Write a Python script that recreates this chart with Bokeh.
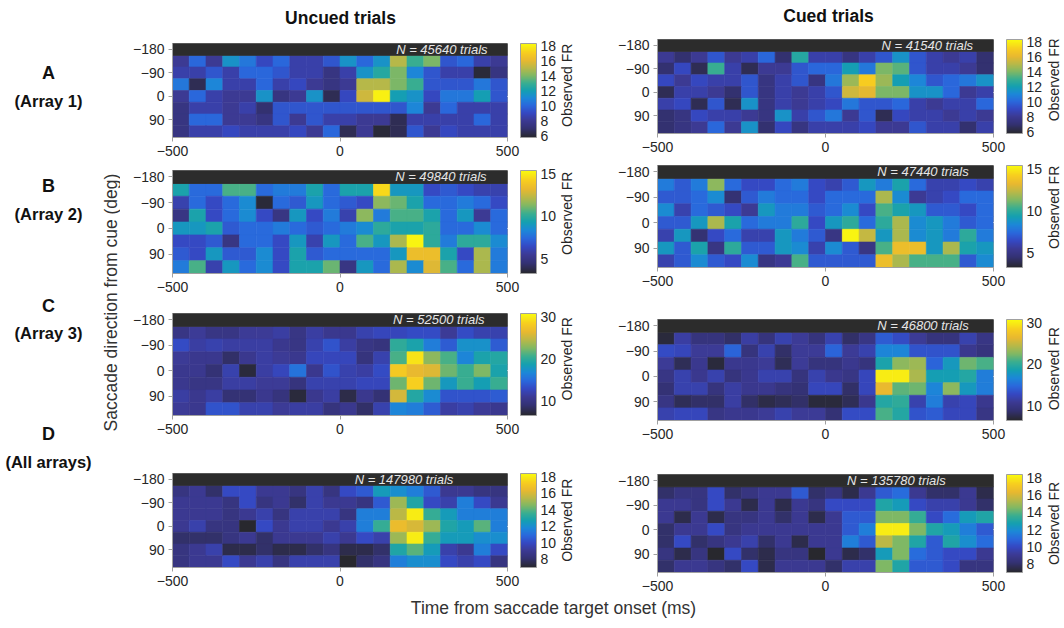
import numpy as np
from math import pi
from bokeh.plotting import figure
from bokeh.models import (Range1d, FixedTicker, ColorBar, LinearColorMapper, Label,
                          ColumnDataSource, LinearAxis)
from bokeh.layouts import row, column
from bokeh.embed import file_html
from bokeh.resources import INLINE
from bokeh.core.properties import value

# ---------------- data ----------------
TIME_BINS = [-475, -425, -375, -325, -275, -225, -175, -125, -75, -25,
             25, 75, 125, 175, 225, 275, 325, 375, 425, 475]
DIRECTIONS = [-135, -90, -45, 0, 45, 90, 135]
X_TICKS = [-500, 0, 500]
Y_TICKS = [-180, -90, 0, 90]

uncued_A = [
    [8, 10, 8, 11.5, 10.5, 9, 10, 8.5, 8.5, 9.5, 11.5, 10, 11.5, 15, 13, 14, 9.5, 10, 8.5, 8],
    [8.5, 8.5, 9.5, 8.5, 10, 10, 9.5, 8.5, 8.5, 7.5, 8.5, 11.5, 12.5, 14, 11, 9.5, 8.5, 8.5, 6, 7.5],
    [10.5, 6.5, 11, 8.5, 8.5, 10, 8.5, 9, 8, 7.5, 8, 15, 15, 14, 13, 9.5, 9.5, 9.5, 10.5, 9.5],
    [8, 10, 8.5, 8, 8, 11.5, 7.5, 8, 11.5, 6.5, 9, 15.5, 18, 12, 11.5, 9, 10.5, 10.5, 12, 9.5],
    [7.5, 8.5, 8.5, 8, 8.5, 7, 9.5, 9.5, 9.5, 9.5, 9.5, 9.5, 9.5, 9.5, 11, 8, 10, 8.5, 8.5, 8.5],
    [7.5, 10, 10, 8, 8, 7.5, 9.5, 8, 9.5, 8.5, 8.5, 8, 8, 6.5, 8.5, 8.5, 8.5, 8.5, 10, 8.5],
    [7.5, 8.5, 8.5, 9, 8.5, 8.5, 8.5, 9, 8, 10, 6.5, 8, 6, 6.5, 9.5, 8, 9, 8.5, 8.5, 8.5],
]
cued_A = [
    [8, 7, 8, 9.5, 8, 8.5, 10, 7, 12.5, 8.5, 8.5, 7.5, 8.5, 9.5, 11.5, 9.5, 8.5, 8, 8.5, 7],
    [7, 9, 6.5, 13, 8.5, 6.5, 8, 8, 9.5, 10, 10, 12, 10.5, 14, 13.5, 9.5, 8.5, 8.5, 8, 7],
    [9, 8, 9, 8.5, 8.5, 9.5, 7.5, 8.5, 9.5, 7.5, 10.5, 14.5, 17, 14.5, 12, 11, 9.5, 10, 10.5, 11.5],
    [6.5, 8.5, 8.5, 8, 7, 9.5, 7.5, 8.5, 8, 8.5, 9.5, 15.5, 16, 14, 14, 11.5, 11.5, 10, 8, 8.5],
    [8.5, 9, 6.5, 9.5, 6.5, 11.5, 7.5, 8.5, 8, 8.5, 9, 10.5, 9.5, 9.5, 10, 8.5, 8, 8.5, 8.5, 10],
    [7, 7.5, 9, 8.5, 8.5, 8, 7.5, 11.5, 8.5, 9.5, 10.5, 8, 9.5, 6.5, 9, 8.5, 8.5, 8, 8.5, 8],
    [7, 7.5, 8, 10, 8, 11.5, 7, 9, 7.5, 8.5, 8.5, 8.5, 9, 8, 8, 9.5, 8.5, 8.5, 7, 8.5],
]
uncued_B = [
    [9.5, 7.5, 7.5, 10.5, 10.5, 7.5, 8, 8, 9.5, 7.5, 9.5, 9.5, 14.5, 9, 9, 6.5, 7, 6.5, 6, 6],
    [6, 7.5, 6.5, 7.5, 8.5, 3.5, 7.5, 7, 9, 7.5, 7, 6.5, 11.5, 11, 9.5, 7.5, 7.5, 8, 7.5, 6.5],
    [5, 9.5, 6.5, 7.5, 8.5, 6.5, 5, 9, 6.5, 8, 6, 11.5, 8, 10.5, 10.5, 9.5, 7.5, 9, 5.5, 7.5],
    [9, 9, 9.5, 7, 7.5, 7.5, 8, 7.5, 7, 7.5, 8, 8.5, 10, 9.5, 9.5, 10, 7.5, 7.5, 8.5, 7.5],
    [6.5, 6.5, 7, 5, 7.5, 7.5, 6.5, 9, 6, 9, 7.5, 10.5, 9, 12, 15.2, 10, 8, 10, 10, 8.5],
    [7, 6.5, 9, 7, 7, 8.5, 6.5, 9.5, 7, 7.5, 7.5, 7.5, 7.5, 9, 13.5, 13.5, 9.5, 6.5, 12, 8],
    [8, 10.5, 6, 9, 7.5, 8.5, 6.5, 9.5, 9.5, 11, 5, 9, 7.5, 12, 8.5, 13, 10.5, 7.5, 12, 8],
]
cued_B = [
    [8, 7, 8, 11.5, 7.5, 6.5, 6.5, 7.5, 8, 6.5, 6, 7, 9, 8, 9.5, 7.5, 6, 6, 6.5, 6],
    [7, 7, 7.5, 8.5, 4.5, 7, 8, 7.5, 7.5, 6.5, 7.5, 7.5, 7.5, 12, 8.5, 5.5, 6, 6.5, 7.5, 7.5],
    [8.5, 6, 7.5, 7, 6.5, 5.5, 9, 8, 8, 7, 7.5, 8.5, 6.5, 10.5, 9.5, 9, 7, 7, 6.5, 7.5],
    [7, 7, 9, 12, 9.5, 7.5, 8, 8, 10, 6.5, 9, 10, 7.5, 10, 12, 8.5, 9, 8, 7, 7.5],
    [6, 9, 4.5, 6.5, 7.5, 6, 6, 9, 8, 7, 5, 15.2, 12.5, 9, 12, 8.5, 9, 8, 10, 8],
    [9, 7, 9.5, 5, 10, 7, 7, 9, 8.5, 6, 8.5, 7, 5, 10.5, 13.5, 13.5, 9, 12, 9.5, 9],
    [6, 7, 8.5, 7, 6.5, 8.5, 5, 5.5, 10.5, 7, 7, 7, 7, 13.5, 12, 10.5, 10.5, 10.5, 7, 8.5],
]
uncued_C = [
    [10, 11, 10, 10, 11, 11, 11.5, 10, 11.5, 10.5, 10.5, 12, 12.5, 12.5, 13, 13, 11, 13, 12, 12],
    [13, 11.5, 12, 11.5, 11.5, 11.5, 10.5, 10, 12, 13.5, 11.5, 10, 9.5, 20, 19, 16, 14, 17.5, 17.5, 14],
    [11, 10.5, 10.5, 8.5, 10.5, 11.5, 11, 10.5, 12.5, 12.5, 12.5, 9.5, 12, 21, 29.5, 23, 21, 16.5, 19, 19.5],
    [10.5, 10.5, 9, 12, 7, 11.5, 12.5, 15.5, 10.5, 13.5, 12, 11.5, 13, 28, 26.5, 26, 22, 20.5, 22.5, 19],
    [10.5, 10, 10, 11.5, 11.5, 11, 11, 9.5, 12, 12, 12, 12.5, 12.5, 22, 28.5, 22, 18, 20.5, 18.5, 20.5],
    [11.5, 10.5, 11.5, 9, 9, 10.5, 9.5, 7, 10.5, 11.5, 7.5, 10.5, 9, 25.5, 19.5, 17, 13.5, 13.5, 13.5, 14],
    [11, 10.5, 13.5, 13.5, 12, 12, 11, 11.5, 11.5, 9.5, 10.5, 8.5, 12, 16.5, 16, 14, 11.5, 12, 11, 10.5],
]
cued_C = [
    [7, 11.5, 9.5, 9.5, 8.5, 11.5, 9.5, 12, 11, 9.5, 12, 8.5, 10, 14, 13, 11, 9.5, 9.5, 12, 10],
    [13, 12.5, 11, 11, 14.5, 9.5, 12, 8.5, 11, 11, 14.5, 11, 12, 16.5, 16.5, 13.5, 13.5, 13.5, 10.5, 9.5],
    [11, 8, 10.5, 7, 10.5, 10.5, 11, 8, 11, 9.5, 9.5, 10.5, 9.5, 19, 23, 23.5, 14.5, 18, 22, 21],
    [10, 12, 10.5, 12, 9.5, 10.5, 12, 12, 9.5, 12, 10.5, 10, 12.5, 30, 30, 24, 18.5, 18.5, 19.5, 16],
    [9, 12, 12, 9.5, 11.5, 10.5, 10.5, 9.5, 9, 12.5, 12.5, 8.5, 12.5, 26.5, 21.5, 22, 16.5, 23, 18, 16],
    [10, 8, 8.5, 8.5, 11.5, 8.5, 7.5, 8, 8.5, 7, 7, 8, 10.5, 19.5, 20, 12, 16, 12, 12.5, 10.5],
    [12, 12.5, 12.5, 10, 10.5, 10.5, 11, 12, 11, 11, 9, 13, 13, 21, 19.5, 13.5, 14, 12.5, 12.5, 10],
]
uncued_D = [
    [8.5, 9, 8, 10, 10, 9, 9, 8.5, 9.5, 8.5, 10, 10.5, 12.5, 12, 11.5, 10.5, 9, 9, 8.5, 8.5],
    [9, 9, 9, 8.5, 10, 8.5, 9, 8, 9.5, 9, 9, 8.5, 10.5, 15, 13, 10, 9.5, 11.5, 10, 9],
    [9, 9, 9, 8.5, 9, 9.5, 8.5, 9.5, 9.5, 9.5, 8.5, 11.5, 11.5, 15.5, 18, 13.5, 12.5, 11.5, 11.5, 11.5],
    [9, 9.5, 8.5, 8.5, 7, 10, 9, 9.5, 9.5, 9, 9.5, 11.5, 13.5, 16.5, 16, 15, 13, 12.5, 14, 11.5],
    [8, 8, 8, 8.5, 9, 8, 9, 9, 9, 9.5, 9, 10, 9.5, 15, 18, 13.5, 12.5, 12.5, 12, 12],
    [8.5, 9, 9.5, 7.5, 7.5, 8, 7.5, 7.5, 8, 8.5, 7.5, 7.5, 8, 13, 14, 12.5, 9.5, 9, 11.5, 10],
    [8.5, 9, 9, 10, 9, 9.5, 8.5, 9.5, 9.5, 9.5, 7, 8, 8.5, 11.5, 12, 12, 10, 9.5, 10, 8.5],
]
cued_D = [
    [8, 8.5, 8.5, 10, 8, 8.5, 9, 9, 10.5, 8, 8.5, 7.5, 9, 10.5, 11, 9, 8, 8, 9, 7.5],
    [9, 9, 8.5, 10, 9, 7.5, 9, 7.5, 9, 8.5, 10, 10, 10, 13, 12.5, 10, 9.5, 9.5, 9, 8],
    [9, 7.5, 9, 7.5, 8.5, 8.5, 9, 8, 9, 7.5, 9, 10.5, 10.5, 14.5, 14.5, 13.5, 10, 11, 12.5, 13],
    [8, 9, 9, 10, 8.5, 9, 9, 9, 9, 9, 9, 10.5, 11.5, 18, 18, 14.5, 13, 12.5, 11.5, 10.5],
    [8, 10, 8, 8.5, 9, 9.5, 8, 9, 7.5, 9, 9, 11.5, 10.5, 15.5, 14.5, 13, 10.5, 13, 12, 11],
    [8.5, 7.5, 8.5, 7, 10, 8, 7.5, 8.5, 8.5, 7, 9, 7.5, 8, 12.5, 14.5, 11, 10.5, 10, 10, 9],
    [8, 9, 9, 8.5, 8, 10, 7.5, 9, 9, 9, 8, 9.5, 9.5, 14.5, 13, 10.5, 10.5, 10, 8.5, 8.5],
]

uncued_trials = [45640, 49840, 52500, 147980]
cued_trials = [41540, 47440, 46800, 135780]

column_titles = ["Uncued trials", "Cued trials"]
row_labels = ["A", "B", "C", "D"]
row_sublabels = ["(Array 1)", "(Array 2)", "(Array 3)", "(All arrays)"]
cbar_title = "Observed FR"

cbar_ticks = [[6, 8, 10, 12, 14, 16, 18], [5, 10, 15], [10, 20, 30], [8, 10, 12, 14, 16, 18]]
cbar_limits = [(5.8, 18.3), (3.3, 15.4), (6.5, 30.8), (7.0, 18.4)]

# ---------------- styling ----------------
FONT = "Liberation Sans"
TXT = "#262626"
AXC = "#a0a0a0"
HEADER_H = 30
RIGHT_BORDER = 53

ANCHORS = [(0.00, "#28282e"), (0.10, "#343274"), (0.18, "#3c3a94"), (0.26, "#3548c2"),
           (0.34, "#2a68dc"), (0.42, "#1c88d8"), (0.50, "#14a0b0"), (0.58, "#3aae90"),
           (0.66, "#80b864"), (0.74, "#b8b848"), (0.82, "#e8b830"), (0.90, "#f7cc20"),
           (1.00, "#f9fb0e")]


def make_palette(n=256):
    pos = [a[0] for a in ANCHORS]
    rgb = np.array([[int(h[i:i + 2], 16) for i in (1, 3, 5)] for _, h in ANCHORS], float)
    t = np.linspace(0, 1, n)
    ch = [np.interp(t, pos, rgb[:, k]) for k in range(3)]
    return ["#%02x%02x%02x" % (int(round(r)), int(round(g)), int(round(b))) for r, g, b in zip(*ch)]


PALETTE = make_palette()


def blank(width, height, xr, yr):
    f = figure(width=width, height=height, x_range=Range1d(*xr), y_range=Range1d(*yr),
               output_backend="svg", toolbar_location=None, min_border=0,
               x_axis_location=None, y_axis_location=None, outline_line_color=None)
    f.grid.visible = False
    return f


def panel(vals, n_trials, text_x, lim, ticks, fw, fh, top, bottom, label_w, label_x):
    p = figure(frame_width=fw, frame_height=fh,
               x_range=Range1d(-500, 500), y_range=Range1d(157.5, -202.5),
               output_backend="svg", toolbar_location=None, title=None,
               min_border_left=52, min_border_right=RIGHT_BORDER, min_border_top=top,
               min_border_bottom=bottom, background_fill_color="white",
               border_fill_color="white", outline_line_color=AXC)
    xs, ys, vs = [], [], []
    for d, rv in zip(DIRECTIONS, vals):
        for t, v in zip(TIME_BINS, rv):
            xs.append(t)
            ys.append(d)
            vs.append(v)
    src = ColumnDataSource(dict(x=xs, y=ys, v=vs))
    mapper = LinearColorMapper(palette=PALETTE, low=lim[0], high=lim[1])
    bw = TIME_BINS[1] - TIME_BINS[0]
    bh = DIRECTIONS[1] - DIRECTIONS[0]
    p.rect(x="x", y="y", width=bw, height=bh, source=src,
           fill_color={"field": "v", "transform": mapper},
           line_color={"field": "v", "transform": mapper}, line_width=0.6)
    # header band with the trial count
    band_y = DIRECTIONS[0] - bh
    p.quad(left=[TIME_BINS[0] - bw / 2], right=[TIME_BINS[-1] + bw / 2],
           top=[band_y - bh / 2], bottom=[band_y + bh / 2],
           fill_color="#2c2c2c", line_color="#2c2c2c")
    p.text(x=[text_x], y=[band_y], text=[f"N = {n_trials} trials"],
           text_font=value(FONT), text_font_style="italic", text_font_size="13px",
           text_color="#e6e6e6", text_align="center", text_baseline="middle")

    p.xaxis.ticker = FixedTicker(ticks=X_TICKS)
    p.yaxis.ticker = FixedTicker(ticks=Y_TICKS)
    for ax in (p.xaxis[0], p.yaxis[0]):
        ax.major_label_text_font = FONT
        ax.major_label_text_font_size = "14px"
        ax.major_label_text_color = TXT
        ax.axis_line_color = AXC
        ax.major_tick_line_color = AXC
        ax.major_tick_out = 4
        ax.major_tick_in = 0
        ax.minor_tick_line_color = None
        ax.major_label_standoff = 4
    p.xgrid.visible = False
    p.ygrid.visible = False

    # invisible spacer between frame and colour bar: one white tick, empty label
    spacer = LinearAxis(ticker=FixedTicker(ticks=[0]), axis_line_color=None,
                        major_tick_line_color="white", minor_tick_line_color=None,
                        major_tick_out=13, major_tick_in=0, minor_tick_out=0,
                        major_label_overrides={0: ""}, major_label_standoff=0)
    p.add_layout(spacer, "right")

    cb = ColorBar(color_mapper=mapper, ticker=FixedTicker(ticks=ticks), width=16,
                  padding=0, margin=0, label_standoff=4,
                  major_label_text_font=FONT, major_label_text_font_size="14px",
                  major_label_text_color=TXT, major_tick_line_color=None,
                  bar_line_color=AXC, background_fill_alpha=0, border_line_color=None)
    p.add_layout(cb, "right")

    total_h = top + fh + bottom
    lab = blank(label_w, total_h, (0, label_w), (total_h, 0))
    lab.add_layout(Label(x=label_x, y=top + fh / 2, text=cbar_title, angle=pi / 2,
                         text_align="center", text_baseline="middle", text_font=FONT,
                         text_font_size="14px", text_color=TXT))
    return row(p, lab)


uncued = [uncued_A, uncued_B, uncued_C, uncued_D]
cued = [cued_A, cued_B, cued_C, cued_D]

# layout geometry (frame heights / borders), label anchor x per panel
L_GEOM = [(94, 43 - HEADER_H, 28), (103, 5, 28), (102, 12, 28), (94, 30, 31)]
R_GEOM = [(94, 39 - HEADER_H, 28), (102, 4, 28), (101, 24, 28), (98, 26, 26)]
L_TEXT_X = [304, 301, 295, 191]
R_TEXT_X = [303, 290, 290, 211]

left_w = 485 - (52 + 335 + RIGHT_BORDER)
right_w = 459 - (52 + 336 + RIGHT_BORDER)

left_figs, right_figs = [], []
for i in range(4):
    fh, t, b = L_GEOM[i]
    left_figs.append(panel(uncued[i], uncued_trials[i], L_TEXT_X[i], cbar_limits[i], cbar_ticks[i],
                           335, fh, t, b, left_w, 6))
    fh, t, b = R_GEOM[i]
    right_figs.append(panel(cued[i], cued_trials[i], R_TEXT_X[i], cbar_limits[i], cbar_ticks[i],
                            336, fh, t, b, right_w, 7))

# header with column titles
header = blank(1064, HEADER_H, (0, 1064), (HEADER_H, 0))
for tx, ty, tt in [(340, 17, column_titles[0]), (828, 15, column_titles[1])]:
    header.add_layout(Label(x=tx, y=ty, text=tt, text_align="center", text_baseline="middle",
                            text_font=FONT, text_font_size="17.5px", text_font_style="bold",
                            text_color="#111111"))

# left label column
lf = blank(120, 598 - HEADER_H, (0, 120), (598, HEADER_H))
LABEL_Y = [(72, 100), (185, 213), (305, 332), (433, 461)]
for (y1, y2), a, s in zip(LABEL_Y, row_labels, row_sublabels):
    lf.add_layout(Label(x=48, y=y1, text=a, text_align="center", text_baseline="middle",
                        text_font=FONT, text_font_size="18px", text_font_style="bold",
                        text_color="#111111"))
    lf.add_layout(Label(x=48, y=y2, text=s, text_align="center", text_baseline="middle",
                        text_font=FONT, text_font_size="16.5px", text_font_style="bold",
                        text_color="#111111"))
lf.add_layout(Label(x=110, y=302, text="Saccade direction from cue (deg)", angle=pi / 2,
                    text_align="center", text_baseline="middle", text_font=FONT,
                    text_font_size="17.5px", text_color="#333333"))

footer = blank(1064, 30, (0, 1064), (628, 598))
footer.add_layout(Label(x=553, y=607, text="Time from saccade target onset (ms)",
                        text_align="center", text_baseline="middle", text_font=FONT,
                        text_font_size="17.5px", text_color="#333333"))

layout = column(header, row(lf, column(*left_figs), column(*right_figs)), footer)

open("out.html", "w").write(file_html(layout, INLINE))
